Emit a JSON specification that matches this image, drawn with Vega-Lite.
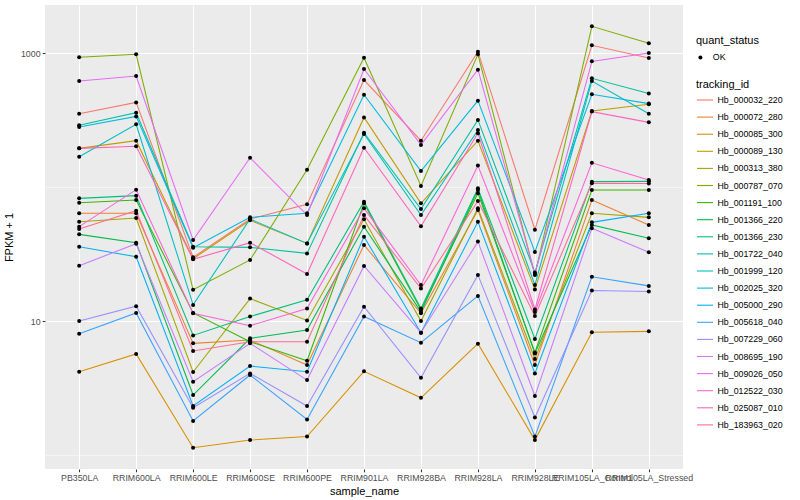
{
"$schema": "https://vega.github.io/schema/vega-lite/v6.json",
"width": 638, "height": 464,
"autosize": {"type": "none"},
"padding": {"left": 45, "top": 5, "right": 117, "bottom": 31},
"background": "white",
"config": {
  "font": "Liberation Sans",
  "view": {"fill": "#EBEBEB", "stroke": null},
  "axis": {"domain": false, "gridColor": "white", "tickColor": "#333333", "tickSize": 2.75, "tickWidth": 1.07, "labelColor": "#4D4D4D", "labelFontSize": 8.8, "titleFontSize": 11, "titleFontWeight": "normal", "titleColor": "black", "labelPadding": 2.2},
  "legend": {"titleFontSize": 11, "titleFontWeight": "normal", "titleColor": "black", "labelFontSize": 8.8, "labelColor": "black", "padding": 0}
},
"data": {"values": [
{"tracking_id":"Hb_000032_220","sample_name":"PB350LA","fpkm_plus_1":354,"quant_status":"OK"},
{"tracking_id":"Hb_000032_220","sample_name":"RRIM600LA","fpkm_plus_1":430,"quant_status":"OK"},
{"tracking_id":"Hb_000032_220","sample_name":"RRIM600LE","fpkm_plus_1":29.9,"quant_status":"OK"},
{"tracking_id":"Hb_000032_220","sample_name":"RRIM600SE","fpkm_plus_1":57.8,"quant_status":"OK"},
{"tracking_id":"Hb_000032_220","sample_name":"RRIM600PE","fpkm_plus_1":74.4,"quant_status":"OK"},
{"tracking_id":"Hb_000032_220","sample_name":"RRIM901LA","fpkm_plus_1":632,"quant_status":"OK"},
{"tracking_id":"Hb_000032_220","sample_name":"RRIM928BA","fpkm_plus_1":222.5,"quant_status":"OK"},
{"tracking_id":"Hb_000032_220","sample_name":"RRIM928LA","fpkm_plus_1":1029,"quant_status":"OK"},
{"tracking_id":"Hb_000032_220","sample_name":"RRIM928LE","fpkm_plus_1":48.1,"quant_status":"OK"},
{"tracking_id":"Hb_000032_220","sample_name":"RRIM105LA_Control","fpkm_plus_1":1148,"quant_status":"OK"},
{"tracking_id":"Hb_000032_220","sample_name":"RRIM105LA_Stressed","fpkm_plus_1":923,"quant_status":"OK"},
{"tracking_id":"Hb_000072_280","sample_name":"PB350LA","fpkm_plus_1":63.8,"quant_status":"OK"},
{"tracking_id":"Hb_000072_280","sample_name":"RRIM600LA","fpkm_plus_1":63.8,"quant_status":"OK"},
{"tracking_id":"Hb_000072_280","sample_name":"RRIM600LE","fpkm_plus_1":6.81,"quant_status":"OK"},
{"tracking_id":"Hb_000072_280","sample_name":"RRIM600SE","fpkm_plus_1":7.21,"quant_status":"OK"},
{"tracking_id":"Hb_000072_280","sample_name":"RRIM600PE","fpkm_plus_1":4.69,"quant_status":"OK"},
{"tracking_id":"Hb_000072_280","sample_name":"RRIM901LA","fpkm_plus_1":37.0,"quant_status":"OK"},
{"tracking_id":"Hb_000072_280","sample_name":"RRIM928BA","fpkm_plus_1":11.41,"quant_status":"OK"},
{"tracking_id":"Hb_000072_280","sample_name":"RRIM928LA","fpkm_plus_1":67.5,"quant_status":"OK"},
{"tracking_id":"Hb_000072_280","sample_name":"RRIM928LE","fpkm_plus_1":4.69,"quant_status":"OK"},
{"tracking_id":"Hb_000072_280","sample_name":"RRIM105LA_Control","fpkm_plus_1":80.2,"quant_status":"OK"},
{"tracking_id":"Hb_000072_280","sample_name":"RRIM105LA_Stressed","fpkm_plus_1":52.2,"quant_status":"OK"},
{"tracking_id":"Hb_000085_300","sample_name":"PB350LA","fpkm_plus_1":4.18,"quant_status":"OK"},
{"tracking_id":"Hb_000085_300","sample_name":"RRIM600LA","fpkm_plus_1":5.67,"quant_status":"OK"},
{"tracking_id":"Hb_000085_300","sample_name":"RRIM600LE","fpkm_plus_1":1.13,"quant_status":"OK"},
{"tracking_id":"Hb_000085_300","sample_name":"RRIM600SE","fpkm_plus_1":1.29,"quant_status":"OK"},
{"tracking_id":"Hb_000085_300","sample_name":"RRIM600PE","fpkm_plus_1":1.37,"quant_status":"OK"},
{"tracking_id":"Hb_000085_300","sample_name":"RRIM901LA","fpkm_plus_1":4.21,"quant_status":"OK"},
{"tracking_id":"Hb_000085_300","sample_name":"RRIM928BA","fpkm_plus_1":2.67,"quant_status":"OK"},
{"tracking_id":"Hb_000085_300","sample_name":"RRIM928LA","fpkm_plus_1":6.77,"quant_status":"OK"},
{"tracking_id":"Hb_000085_300","sample_name":"RRIM928LE","fpkm_plus_1":1.29,"quant_status":"OK"},
{"tracking_id":"Hb_000085_300","sample_name":"RRIM105LA_Control","fpkm_plus_1":8.23,"quant_status":"OK"},
{"tracking_id":"Hb_000085_300","sample_name":"RRIM105LA_Stressed","fpkm_plus_1":8.37,"quant_status":"OK"},
{"tracking_id":"Hb_000089_130","sample_name":"PB350LA","fpkm_plus_1":195,"quant_status":"OK"},
{"tracking_id":"Hb_000089_130","sample_name":"RRIM600LA","fpkm_plus_1":222.5,"quant_status":"OK"},
{"tracking_id":"Hb_000089_130","sample_name":"RRIM600LE","fpkm_plus_1":29.2,"quant_status":"OK"},
{"tracking_id":"Hb_000089_130","sample_name":"RRIM600SE","fpkm_plus_1":56.5,"quant_status":"OK"},
{"tracking_id":"Hb_000089_130","sample_name":"RRIM600PE","fpkm_plus_1":38.0,"quant_status":"OK"},
{"tracking_id":"Hb_000089_130","sample_name":"RRIM901LA","fpkm_plus_1":332,"quant_status":"OK"},
{"tracking_id":"Hb_000089_130","sample_name":"RRIM928BA","fpkm_plus_1":75.7,"quant_status":"OK"},
{"tracking_id":"Hb_000089_130","sample_name":"RRIM928LA","fpkm_plus_1":222.5,"quant_status":"OK"},
{"tracking_id":"Hb_000089_130","sample_name":"RRIM928LE","fpkm_plus_1":17.2,"quant_status":"OK"},
{"tracking_id":"Hb_000089_130","sample_name":"RRIM105LA_Control","fpkm_plus_1":371,"quant_status":"OK"},
{"tracking_id":"Hb_000089_130","sample_name":"RRIM105LA_Stressed","fpkm_plus_1":416,"quant_status":"OK"},
{"tracking_id":"Hb_000313_380","sample_name":"PB350LA","fpkm_plus_1":55.2,"quant_status":"OK"},
{"tracking_id":"Hb_000313_380","sample_name":"RRIM600LA","fpkm_plus_1":58.8,"quant_status":"OK"},
{"tracking_id":"Hb_000313_380","sample_name":"RRIM600LE","fpkm_plus_1":4.16,"quant_status":"OK"},
{"tracking_id":"Hb_000313_380","sample_name":"RRIM600SE","fpkm_plus_1":14.7,"quant_status":"OK"},
{"tracking_id":"Hb_000313_380","sample_name":"RRIM600PE","fpkm_plus_1":10.1,"quant_status":"OK"},
{"tracking_id":"Hb_000313_380","sample_name":"RRIM901LA","fpkm_plus_1":57.5,"quant_status":"OK"},
{"tracking_id":"Hb_000313_380","sample_name":"RRIM928BA","fpkm_plus_1":10.0,"quant_status":"OK"},
{"tracking_id":"Hb_000313_380","sample_name":"RRIM928LA","fpkm_plus_1":69.5,"quant_status":"OK"},
{"tracking_id":"Hb_000313_380","sample_name":"RRIM928LE","fpkm_plus_1":5.20,"quant_status":"OK"},
{"tracking_id":"Hb_000313_380","sample_name":"RRIM105LA_Control","fpkm_plus_1":63.8,"quant_status":"OK"},
{"tracking_id":"Hb_000313_380","sample_name":"RRIM105LA_Stressed","fpkm_plus_1":59.5,"quant_status":"OK"},
{"tracking_id":"Hb_000787_070","sample_name":"PB350LA","fpkm_plus_1":934,"quant_status":"OK"},
{"tracking_id":"Hb_000787_070","sample_name":"RRIM600LA","fpkm_plus_1":983,"quant_status":"OK"},
{"tracking_id":"Hb_000787_070","sample_name":"RRIM600LE","fpkm_plus_1":17.1,"quant_status":"OK"},
{"tracking_id":"Hb_000787_070","sample_name":"RRIM600SE","fpkm_plus_1":28.6,"quant_status":"OK"},
{"tracking_id":"Hb_000787_070","sample_name":"RRIM600PE","fpkm_plus_1":135,"quant_status":"OK"},
{"tracking_id":"Hb_000787_070","sample_name":"RRIM901LA","fpkm_plus_1":928,"quant_status":"OK"},
{"tracking_id":"Hb_000787_070","sample_name":"RRIM928BA","fpkm_plus_1":102,"quant_status":"OK"},
{"tracking_id":"Hb_000787_070","sample_name":"RRIM928LA","fpkm_plus_1":983,"quant_status":"OK"},
{"tracking_id":"Hb_000787_070","sample_name":"RRIM928LE","fpkm_plus_1":22.1,"quant_status":"OK"},
{"tracking_id":"Hb_000787_070","sample_name":"RRIM105LA_Control","fpkm_plus_1":1591,"quant_status":"OK"},
{"tracking_id":"Hb_000787_070","sample_name":"RRIM105LA_Stressed","fpkm_plus_1":1188,"quant_status":"OK"},
{"tracking_id":"Hb_001191_100","sample_name":"PB350LA","fpkm_plus_1":76.6,"quant_status":"OK"},
{"tracking_id":"Hb_001191_100","sample_name":"RRIM600LA","fpkm_plus_1":80.2,"quant_status":"OK"},
{"tracking_id":"Hb_001191_100","sample_name":"RRIM600LE","fpkm_plus_1":11.5,"quant_status":"OK"},
{"tracking_id":"Hb_001191_100","sample_name":"RRIM600SE","fpkm_plus_1":7.01,"quant_status":"OK"},
{"tracking_id":"Hb_001191_100","sample_name":"RRIM600PE","fpkm_plus_1":5.05,"quant_status":"OK"},
{"tracking_id":"Hb_001191_100","sample_name":"RRIM901LA","fpkm_plus_1":75.7,"quant_status":"OK"},
{"tracking_id":"Hb_001191_100","sample_name":"RRIM928BA","fpkm_plus_1":12.1,"quant_status":"OK"},
{"tracking_id":"Hb_001191_100","sample_name":"RRIM928LA","fpkm_plus_1":89.9,"quant_status":"OK"},
{"tracking_id":"Hb_001191_100","sample_name":"RRIM928LE","fpkm_plus_1":5.83,"quant_status":"OK"},
{"tracking_id":"Hb_001191_100","sample_name":"RRIM105LA_Control","fpkm_plus_1":95.2,"quant_status":"OK"},
{"tracking_id":"Hb_001191_100","sample_name":"RRIM105LA_Stressed","fpkm_plus_1":95.2,"quant_status":"OK"},
{"tracking_id":"Hb_001366_220","sample_name":"PB350LA","fpkm_plus_1":44.4,"quant_status":"OK"},
{"tracking_id":"Hb_001366_220","sample_name":"RRIM600LA","fpkm_plus_1":38.5,"quant_status":"OK"},
{"tracking_id":"Hb_001366_220","sample_name":"RRIM600LE","fpkm_plus_1":2.80,"quant_status":"OK"},
{"tracking_id":"Hb_001366_220","sample_name":"RRIM600SE","fpkm_plus_1":7.42,"quant_status":"OK"},
{"tracking_id":"Hb_001366_220","sample_name":"RRIM600PE","fpkm_plus_1":8.56,"quant_status":"OK"},
{"tracking_id":"Hb_001366_220","sample_name":"RRIM901LA","fpkm_plus_1":50.7,"quant_status":"OK"},
{"tracking_id":"Hb_001366_220","sample_name":"RRIM928BA","fpkm_plus_1":11.7,"quant_status":"OK"},
{"tracking_id":"Hb_001366_220","sample_name":"RRIM928LA","fpkm_plus_1":95.2,"quant_status":"OK"},
{"tracking_id":"Hb_001366_220","sample_name":"RRIM928LE","fpkm_plus_1":5.73,"quant_status":"OK"},
{"tracking_id":"Hb_001366_220","sample_name":"RRIM105LA_Control","fpkm_plus_1":52.2,"quant_status":"OK"},
{"tracking_id":"Hb_001366_220","sample_name":"RRIM105LA_Stressed","fpkm_plus_1":41.5,"quant_status":"OK"},
{"tracking_id":"Hb_001366_230","sample_name":"PB350LA","fpkm_plus_1":82.5,"quant_status":"OK"},
{"tracking_id":"Hb_001366_230","sample_name":"RRIM600LA","fpkm_plus_1":86.4,"quant_status":"OK"},
{"tracking_id":"Hb_001366_230","sample_name":"RRIM600LE","fpkm_plus_1":7.81,"quant_status":"OK"},
{"tracking_id":"Hb_001366_230","sample_name":"RRIM600SE","fpkm_plus_1":10.8,"quant_status":"OK"},
{"tracking_id":"Hb_001366_230","sample_name":"RRIM600PE","fpkm_plus_1":14.4,"quant_status":"OK"},
{"tracking_id":"Hb_001366_230","sample_name":"RRIM901LA","fpkm_plus_1":77.9,"quant_status":"OK"},
{"tracking_id":"Hb_001366_230","sample_name":"RRIM928BA","fpkm_plus_1":12.4,"quant_status":"OK"},
{"tracking_id":"Hb_001366_230","sample_name":"RRIM928LA","fpkm_plus_1":98.0,"quant_status":"OK"},
{"tracking_id":"Hb_001366_230","sample_name":"RRIM928LE","fpkm_plus_1":7.34,"quant_status":"OK"},
{"tracking_id":"Hb_001366_230","sample_name":"RRIM105LA_Control","fpkm_plus_1":110,"quant_status":"OK"},
{"tracking_id":"Hb_001366_230","sample_name":"RRIM105LA_Stressed","fpkm_plus_1":110.5,"quant_status":"OK"},
{"tracking_id":"Hb_001722_040","sample_name":"PB350LA","fpkm_plus_1":290,"quant_status":"OK"},
{"tracking_id":"Hb_001722_040","sample_name":"RRIM600LA","fpkm_plus_1":360,"quant_status":"OK"},
{"tracking_id":"Hb_001722_040","sample_name":"RRIM600LE","fpkm_plus_1":35.9,"quant_status":"OK"},
{"tracking_id":"Hb_001722_040","sample_name":"RRIM600SE","fpkm_plus_1":35.5,"quant_status":"OK"},
{"tracking_id":"Hb_001722_040","sample_name":"RRIM600PE","fpkm_plus_1":32.0,"quant_status":"OK"},
{"tracking_id":"Hb_001722_040","sample_name":"RRIM901LA","fpkm_plus_1":255,"quant_status":"OK"},
{"tracking_id":"Hb_001722_040","sample_name":"RRIM928BA","fpkm_plus_1":68.7,"quant_status":"OK"},
{"tracking_id":"Hb_001722_040","sample_name":"RRIM928LA","fpkm_plus_1":318,"quant_status":"OK"},
{"tracking_id":"Hb_001722_040","sample_name":"RRIM928LE","fpkm_plus_1":23.0,"quant_status":"OK"},
{"tracking_id":"Hb_001722_040","sample_name":"RRIM105LA_Control","fpkm_plus_1":651,"quant_status":"OK"},
{"tracking_id":"Hb_001722_040","sample_name":"RRIM105LA_Stressed","fpkm_plus_1":502,"quant_status":"OK"},
{"tracking_id":"Hb_001999_120","sample_name":"PB350LA","fpkm_plus_1":169,"quant_status":"OK"},
{"tracking_id":"Hb_001999_120","sample_name":"RRIM600LA","fpkm_plus_1":295,"quant_status":"OK"},
{"tracking_id":"Hb_001999_120","sample_name":"RRIM600LE","fpkm_plus_1":13.2,"quant_status":"OK"},
{"tracking_id":"Hb_001999_120","sample_name":"RRIM600SE","fpkm_plus_1":57.8,"quant_status":"OK"},
{"tracking_id":"Hb_001999_120","sample_name":"RRIM600PE","fpkm_plus_1":38.0,"quant_status":"OK"},
{"tracking_id":"Hb_001999_120","sample_name":"RRIM901LA","fpkm_plus_1":250,"quant_status":"OK"},
{"tracking_id":"Hb_001999_120","sample_name":"RRIM928BA","fpkm_plus_1":61.9,"quant_status":"OK"},
{"tracking_id":"Hb_001999_120","sample_name":"RRIM928LA","fpkm_plus_1":267,"quant_status":"OK"},
{"tracking_id":"Hb_001999_120","sample_name":"RRIM928LE","fpkm_plus_1":18.6,"quant_status":"OK"},
{"tracking_id":"Hb_001999_120","sample_name":"RRIM105LA_Control","fpkm_plus_1":621,"quant_status":"OK"},
{"tracking_id":"Hb_001999_120","sample_name":"RRIM105LA_Stressed","fpkm_plus_1":354,"quant_status":"OK"},
{"tracking_id":"Hb_002025_320","sample_name":"PB350LA","fpkm_plus_1":282,"quant_status":"OK"},
{"tracking_id":"Hb_002025_320","sample_name":"RRIM600LA","fpkm_plus_1":338,"quant_status":"OK"},
{"tracking_id":"Hb_002025_320","sample_name":"RRIM600LE","fpkm_plus_1":35.3,"quant_status":"OK"},
{"tracking_id":"Hb_002025_320","sample_name":"RRIM600SE","fpkm_plus_1":59.5,"quant_status":"OK"},
{"tracking_id":"Hb_002025_320","sample_name":"RRIM600PE","fpkm_plus_1":63.8,"quant_status":"OK"},
{"tracking_id":"Hb_002025_320","sample_name":"RRIM901LA","fpkm_plus_1":491,"quant_status":"OK"},
{"tracking_id":"Hb_002025_320","sample_name":"RRIM928BA","fpkm_plus_1":132,"quant_status":"OK"},
{"tracking_id":"Hb_002025_320","sample_name":"RRIM928LA","fpkm_plus_1":443,"quant_status":"OK"},
{"tracking_id":"Hb_002025_320","sample_name":"RRIM928LE","fpkm_plus_1":32.8,"quant_status":"OK"},
{"tracking_id":"Hb_002025_320","sample_name":"RRIM105LA_Control","fpkm_plus_1":494,"quant_status":"OK"},
{"tracking_id":"Hb_002025_320","sample_name":"RRIM105LA_Stressed","fpkm_plus_1":421,"quant_status":"OK"},
{"tracking_id":"Hb_005000_290","sample_name":"PB350LA","fpkm_plus_1":35.9,"quant_status":"OK"},
{"tracking_id":"Hb_005000_290","sample_name":"RRIM600LA","fpkm_plus_1":30.2,"quant_status":"OK"},
{"tracking_id":"Hb_005000_290","sample_name":"RRIM600LE","fpkm_plus_1":2.32,"quant_status":"OK"},
{"tracking_id":"Hb_005000_290","sample_name":"RRIM600SE","fpkm_plus_1":4.61,"quant_status":"OK"},
{"tracking_id":"Hb_005000_290","sample_name":"RRIM600PE","fpkm_plus_1":4.18,"quant_status":"OK"},
{"tracking_id":"Hb_005000_290","sample_name":"RRIM901LA","fpkm_plus_1":42.7,"quant_status":"OK"},
{"tracking_id":"Hb_005000_290","sample_name":"RRIM928BA","fpkm_plus_1":8.18,"quant_status":"OK"},
{"tracking_id":"Hb_005000_290","sample_name":"RRIM928LA","fpkm_plus_1":55.2,"quant_status":"OK"},
{"tracking_id":"Hb_005000_290","sample_name":"RRIM928LE","fpkm_plus_1":4.06,"quant_status":"OK"},
{"tracking_id":"Hb_005000_290","sample_name":"RRIM105LA_Control","fpkm_plus_1":54.6,"quant_status":"OK"},
{"tracking_id":"Hb_005000_290","sample_name":"RRIM105LA_Stressed","fpkm_plus_1":63.8,"quant_status":"OK"},
{"tracking_id":"Hb_005618_040","sample_name":"PB350LA","fpkm_plus_1":8.04,"quant_status":"OK"},
{"tracking_id":"Hb_005618_040","sample_name":"RRIM600LA","fpkm_plus_1":11.5,"quant_status":"OK"},
{"tracking_id":"Hb_005618_040","sample_name":"RRIM600LE","fpkm_plus_1":1.79,"quant_status":"OK"},
{"tracking_id":"Hb_005618_040","sample_name":"RRIM600SE","fpkm_plus_1":3.95,"quant_status":"OK"},
{"tracking_id":"Hb_005618_040","sample_name":"RRIM600PE","fpkm_plus_1":1.84,"quant_status":"OK"},
{"tracking_id":"Hb_005618_040","sample_name":"RRIM901LA","fpkm_plus_1":10.8,"quant_status":"OK"},
{"tracking_id":"Hb_005618_040","sample_name":"RRIM928BA","fpkm_plus_1":6.89,"quant_status":"OK"},
{"tracking_id":"Hb_005618_040","sample_name":"RRIM928LA","fpkm_plus_1":15.4,"quant_status":"OK"},
{"tracking_id":"Hb_005618_040","sample_name":"RRIM928LE","fpkm_plus_1":1.37,"quant_status":"OK"},
{"tracking_id":"Hb_005618_040","sample_name":"RRIM105LA_Control","fpkm_plus_1":21.4,"quant_status":"OK"},
{"tracking_id":"Hb_005618_040","sample_name":"RRIM105LA_Stressed","fpkm_plus_1":18.3,"quant_status":"OK"},
{"tracking_id":"Hb_007229_060","sample_name":"PB350LA","fpkm_plus_1":10.0,"quant_status":"OK"},
{"tracking_id":"Hb_007229_060","sample_name":"RRIM600LA","fpkm_plus_1":12.9,"quant_status":"OK"},
{"tracking_id":"Hb_007229_060","sample_name":"RRIM600LE","fpkm_plus_1":2.25,"quant_status":"OK"},
{"tracking_id":"Hb_007229_060","sample_name":"RRIM600SE","fpkm_plus_1":4.06,"quant_status":"OK"},
{"tracking_id":"Hb_007229_060","sample_name":"RRIM600PE","fpkm_plus_1":2.32,"quant_status":"OK"},
{"tracking_id":"Hb_007229_060","sample_name":"RRIM901LA","fpkm_plus_1":12.8,"quant_status":"OK"},
{"tracking_id":"Hb_007229_060","sample_name":"RRIM928BA","fpkm_plus_1":3.77,"quant_status":"OK"},
{"tracking_id":"Hb_007229_060","sample_name":"RRIM928LA","fpkm_plus_1":22.1,"quant_status":"OK"},
{"tracking_id":"Hb_007229_060","sample_name":"RRIM928LE","fpkm_plus_1":1.90,"quant_status":"OK"},
{"tracking_id":"Hb_007229_060","sample_name":"RRIM105LA_Control","fpkm_plus_1":16.9,"quant_status":"OK"},
{"tracking_id":"Hb_007229_060","sample_name":"RRIM105LA_Stressed","fpkm_plus_1":16.6,"quant_status":"OK"},
{"tracking_id":"Hb_008695_190","sample_name":"PB350LA","fpkm_plus_1":25.9,"quant_status":"OK"},
{"tracking_id":"Hb_008695_190","sample_name":"RRIM600LA","fpkm_plus_1":37.8,"quant_status":"OK"},
{"tracking_id":"Hb_008695_190","sample_name":"RRIM600LE","fpkm_plus_1":3.52,"quant_status":"OK"},
{"tracking_id":"Hb_008695_190","sample_name":"RRIM600SE","fpkm_plus_1":6.81,"quant_status":"OK"},
{"tracking_id":"Hb_008695_190","sample_name":"RRIM600PE","fpkm_plus_1":3.62,"quant_status":"OK"},
{"tracking_id":"Hb_008695_190","sample_name":"RRIM901LA","fpkm_plus_1":25.8,"quant_status":"OK"},
{"tracking_id":"Hb_008695_190","sample_name":"RRIM928BA","fpkm_plus_1":8.18,"quant_status":"OK"},
{"tracking_id":"Hb_008695_190","sample_name":"RRIM928LA","fpkm_plus_1":39.2,"quant_status":"OK"},
{"tracking_id":"Hb_008695_190","sample_name":"RRIM928LE","fpkm_plus_1":2.75,"quant_status":"OK"},
{"tracking_id":"Hb_008695_190","sample_name":"RRIM105LA_Control","fpkm_plus_1":49.3,"quant_status":"OK"},
{"tracking_id":"Hb_008695_190","sample_name":"RRIM105LA_Stressed","fpkm_plus_1":32.6,"quant_status":"OK"},
{"tracking_id":"Hb_009026_050","sample_name":"PB350LA","fpkm_plus_1":621,"quant_status":"OK"},
{"tracking_id":"Hb_009026_050","sample_name":"RRIM600LA","fpkm_plus_1":677,"quant_status":"OK"},
{"tracking_id":"Hb_009026_050","sample_name":"RRIM600LE","fpkm_plus_1":40.3,"quant_status":"OK"},
{"tracking_id":"Hb_009026_050","sample_name":"RRIM600SE","fpkm_plus_1":166,"quant_status":"OK"},
{"tracking_id":"Hb_009026_050","sample_name":"RRIM600PE","fpkm_plus_1":61.9,"quant_status":"OK"},
{"tracking_id":"Hb_009026_050","sample_name":"RRIM901LA","fpkm_plus_1":764,"quant_status":"OK"},
{"tracking_id":"Hb_009026_050","sample_name":"RRIM928BA","fpkm_plus_1":207,"quant_status":"OK"},
{"tracking_id":"Hb_009026_050","sample_name":"RRIM928LA","fpkm_plus_1":755,"quant_status":"OK"},
{"tracking_id":"Hb_009026_050","sample_name":"RRIM928LE","fpkm_plus_1":22.5,"quant_status":"OK"},
{"tracking_id":"Hb_009026_050","sample_name":"RRIM105LA_Control","fpkm_plus_1":871,"quant_status":"OK"},
{"tracking_id":"Hb_009026_050","sample_name":"RRIM105LA_Stressed","fpkm_plus_1":1006,"quant_status":"OK"},
{"tracking_id":"Hb_012522_030","sample_name":"PB350LA","fpkm_plus_1":50.7,"quant_status":"OK"},
{"tracking_id":"Hb_012522_030","sample_name":"RRIM600LA","fpkm_plus_1":95.8,"quant_status":"OK"},
{"tracking_id":"Hb_012522_030","sample_name":"RRIM600LE","fpkm_plus_1":11.41,"quant_status":"OK"},
{"tracking_id":"Hb_012522_030","sample_name":"RRIM600SE","fpkm_plus_1":9.23,"quant_status":"OK"},
{"tracking_id":"Hb_012522_030","sample_name":"RRIM600PE","fpkm_plus_1":12.4,"quant_status":"OK"},
{"tracking_id":"Hb_012522_030","sample_name":"RRIM901LA","fpkm_plus_1":69.5,"quant_status":"OK"},
{"tracking_id":"Hb_012522_030","sample_name":"RRIM928BA","fpkm_plus_1":18.6,"quant_status":"OK"},
{"tracking_id":"Hb_012522_030","sample_name":"RRIM928LA","fpkm_plus_1":145,"quant_status":"OK"},
{"tracking_id":"Hb_012522_030","sample_name":"RRIM928LE","fpkm_plus_1":11.7,"quant_status":"OK"},
{"tracking_id":"Hb_012522_030","sample_name":"RRIM105LA_Control","fpkm_plus_1":152,"quant_status":"OK"},
{"tracking_id":"Hb_012522_030","sample_name":"RRIM105LA_Stressed","fpkm_plus_1":113,"quant_status":"OK"},
{"tracking_id":"Hb_025087_010","sample_name":"PB350LA","fpkm_plus_1":195,"quant_status":"OK"},
{"tracking_id":"Hb_025087_010","sample_name":"RRIM600LA","fpkm_plus_1":202,"quant_status":"OK"},
{"tracking_id":"Hb_025087_010","sample_name":"RRIM600LE","fpkm_plus_1":28.9,"quant_status":"OK"},
{"tracking_id":"Hb_025087_010","sample_name":"RRIM600SE","fpkm_plus_1":38.5,"quant_status":"OK"},
{"tracking_id":"Hb_025087_010","sample_name":"RRIM600PE","fpkm_plus_1":22.5,"quant_status":"OK"},
{"tracking_id":"Hb_025087_010","sample_name":"RRIM901LA","fpkm_plus_1":197,"quant_status":"OK"},
{"tracking_id":"Hb_025087_010","sample_name":"RRIM928BA","fpkm_plus_1":51.0,"quant_status":"OK"},
{"tracking_id":"Hb_025087_010","sample_name":"RRIM928LA","fpkm_plus_1":253,"quant_status":"OK"},
{"tracking_id":"Hb_025087_010","sample_name":"RRIM928LE","fpkm_plus_1":12.2,"quant_status":"OK"},
{"tracking_id":"Hb_025087_010","sample_name":"RRIM105LA_Control","fpkm_plus_1":367,"quant_status":"OK"},
{"tracking_id":"Hb_025087_010","sample_name":"RRIM105LA_Stressed","fpkm_plus_1":305,"quant_status":"OK"},
{"tracking_id":"Hb_183963_020","sample_name":"PB350LA","fpkm_plus_1":48.7,"quant_status":"OK"},
{"tracking_id":"Hb_183963_020","sample_name":"RRIM600LA","fpkm_plus_1":66.7,"quant_status":"OK"},
{"tracking_id":"Hb_183963_020","sample_name":"RRIM600LE","fpkm_plus_1":5.97,"quant_status":"OK"},
{"tracking_id":"Hb_183963_020","sample_name":"RRIM600SE","fpkm_plus_1":7.01,"quant_status":"OK"},
{"tracking_id":"Hb_183963_020","sample_name":"RRIM600PE","fpkm_plus_1":7.01,"quant_status":"OK"},
{"tracking_id":"Hb_183963_020","sample_name":"RRIM901LA","fpkm_plus_1":61.9,"quant_status":"OK"},
{"tracking_id":"Hb_183963_020","sample_name":"RRIM928BA","fpkm_plus_1":17.5,"quant_status":"OK"},
{"tracking_id":"Hb_183963_020","sample_name":"RRIM928LA","fpkm_plus_1":78.8,"quant_status":"OK"},
{"tracking_id":"Hb_183963_020","sample_name":"RRIM928LE","fpkm_plus_1":10.9,"quant_status":"OK"},
{"tracking_id":"Hb_183963_020","sample_name":"RRIM105LA_Control","fpkm_plus_1":107,"quant_status":"OK"},
{"tracking_id":"Hb_183963_020","sample_name":"RRIM105LA_Stressed","fpkm_plus_1":106.5,"quant_status":"OK"}
]},
"encoding": {
  "x": {"field": "sample_name", "type": "nominal",
        "sort": ["PB350LA","RRIM600LA","RRIM600LE","RRIM600SE","RRIM600PE","RRIM901LA","RRIM928BA","RRIM928LA","RRIM928LE","RRIM105LA_Control","RRIM105LA_Stressed"],
        "scale": {"type": "point", "padding": 0.6},
        "axis": {"title": "sample_name", "labelAngle": 0, "labelOverlap": false, "grid": true, "gridWidth": 1.07, "titlePadding": 3}},
  "y": {"field": "fpkm_plus_1", "type": "quantitative",
        "scale": {"type": "log", "domain": [0.784, 2297], "nice": false, "zero": false},
        "axis": {"title": "FPKM + 1", "values": [1, 10, 100, 1000],
                 "labelExpr": "datum.value == 10 || datum.value == 1000 ? format(datum.value, 'd') : ''",
                 "gridWidth": {"condition": {"test": "datum.value == 10 || datum.value == 1000", "value": 1.07}, "value": 0.53},
                 "tickOpacity": {"condition": {"test": "datum.value == 10 || datum.value == 1000", "value": 1}, "value": 0},
                 "titlePadding": 6}}
},
"layer": [
  {"mark": {"type": "line", "strokeWidth": 1.07},
   "encoding": {"color": {"field": "tracking_id", "type": "nominal",
      "scale": {"domain": ["Hb_000032_220","Hb_000072_280","Hb_000085_300","Hb_000089_130","Hb_000313_380","Hb_000787_070","Hb_001191_100","Hb_001366_220","Hb_001366_230","Hb_001722_040","Hb_001999_120","Hb_002025_320","Hb_005000_290","Hb_005618_040","Hb_007229_060","Hb_008695_190","Hb_009026_050","Hb_012522_030","Hb_025087_010","Hb_183963_020"],
                "range": ["#F8766D","#EA8331","#D89000","#C09B00","#A3A500","#7CAE00","#39B600","#00BB4E","#00BF7D","#00C1A3","#00BFC4","#00BAE0","#00B0F6","#35A2FF","#9590FF","#C77CFF","#E76BF3","#FA62DB","#FF62BC","#FF6C91"]},
      "legend": {"title": "tracking_id", "orient": "none", "legendX": 651, "legendY": 74, "symbolType": "stroke", "symbolSize": 256, "symbolStrokeWidth": 1.1, "rowPadding": 3.1, "titlePadding": 1, "labelOffset": 3.5}}}},
  {"mark": {"type": "point", "filled": true, "size": 16, "opacity": 1},
   "encoding": {"color": {"value": "black"},
      "shape": {"field": "quant_status", "type": "nominal", "scale": {"range": ["circle"]},
        "legend": {"title": "quant_status", "orient": "none", "legendX": 651, "legendY": 30, "symbolSize": 16, "symbolFillColor": "black", "symbolStrokeColor": "black", "titlePadding": 7, "labelOffset": 8}}}}
]
}
